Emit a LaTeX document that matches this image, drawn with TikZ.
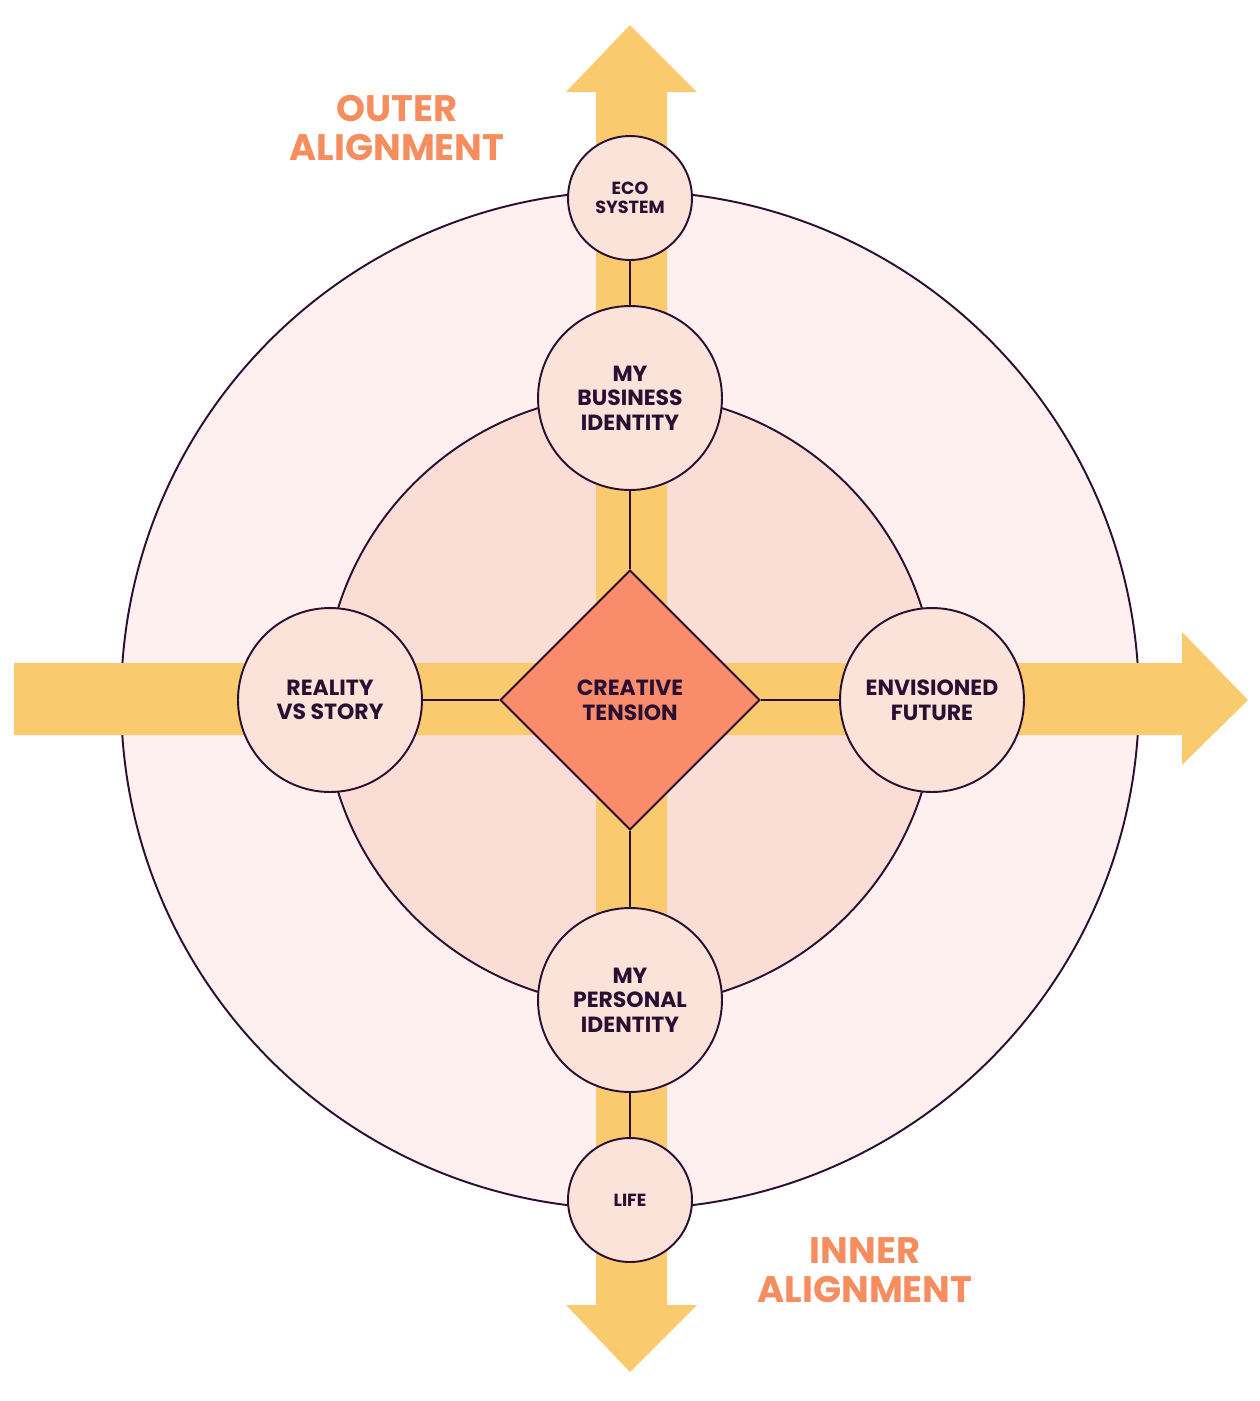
\documentclass[tikz,border=0pt]{standalone}
\usepackage{fontspec}
\setmainfont{Poppins}
\usetikzlibrary{shapes.geometric, positioning}
\definecolor{ringout}{HTML}{FDF0EE}
\definecolor{ringin}{HTML}{FADDD4}
\definecolor{bubble}{HTML}{FBE3DA}
\definecolor{core}{HTML}{F98D6B}
\definecolor{flow}{HTML}{FACB6E}
\definecolor{ink}{HTML}{2A0F33}
\definecolor{title}{HTML}{F58D5E}

\begin{document}
\begin{tikzpicture}[
    x=0.02cm, y=-0.02cm,
    ring/.style={circle, draw=ink, line width=1.1pt},
    small/.style={circle, draw=ink, line width=1.1pt, fill=bubble, minimum size=2.48cm, align=center, font=\bfseries\fontsize{10}{11}\selectfont, text=ink, inner sep=0pt},
    big/.style={circle, draw=ink, line width=1.1pt, fill=bubble, minimum size=3.68cm, align=center, font=\bfseries\fontsize{12.5}{14}\selectfont, text=ink, inner sep=0pt},
    core diamond/.style={diamond, draw=ink, line width=1.1pt, fill=core, minimum size=5.2cm, aspect=1, align=center, font=\bfseries\fontsize{12.5}{14}\selectfont, text=ink, inner sep=0pt},
    link/.style={draw=ink, line width=1.1pt},
    heading/.style={align=center, font=\bfseries\fontsize{21}{22}\selectfont, text=title}
]
\useasboundingbox (0,0) rectangle (1259,1401);

% rings
\node (outer) [ring, fill=ringout, minimum size=20.36cm] at (630,700) {};
\node (inner) [ring, fill=ringin, minimum size=12.24cm] at (630,700) {};

% flow arrows
\fill[flow] (596,92) -- (566,92) -- (630,25) -- (697,92) -- (667,92) -- (667,1305)
  -- (697,1305) -- (630,1372) -- (566,1305) -- (596,1305) -- cycle;
\fill[flow] (14,663) -- (1182,663) -- (1182,632) -- (1248,700) -- (1182,765)
  -- (1182,735) -- (14,735) -- cycle;

% nodes
\node (eco) [small] at (630,198) {ECO\\SYSTEM};
\node (life) [small] at (630,1200) {LIFE};
\node (business) [big] at (630,398) {MY\\BUSINESS\\IDENTITY};
\node (personal) [big] at (630,1000) {MY\\PERSONAL\\IDENTITY};
\node (reality) [big] at (330,700) {REALITY\\VS STORY};
\node (future) [big] at (932,700) {ENVISIONED\\FUTURE};
\node (ct) [core diamond] at (630,700) {CREATIVE\\TENSION};

\draw [link] (eco) -- (business);
\draw [link] (business) -- (ct);
\draw [link] (ct) -- (personal);
\draw [link] (personal) -- (life);
\draw [link] (reality) -- (ct);
\draw [link] (ct) -- (future);

\node (outertitle) [heading] at (397,128) {OUTER\\ALIGNMENT};
\node (innertitle) [heading] at (865,1270) {INNER\\ALIGNMENT};

\end{tikzpicture}
\end{document}
